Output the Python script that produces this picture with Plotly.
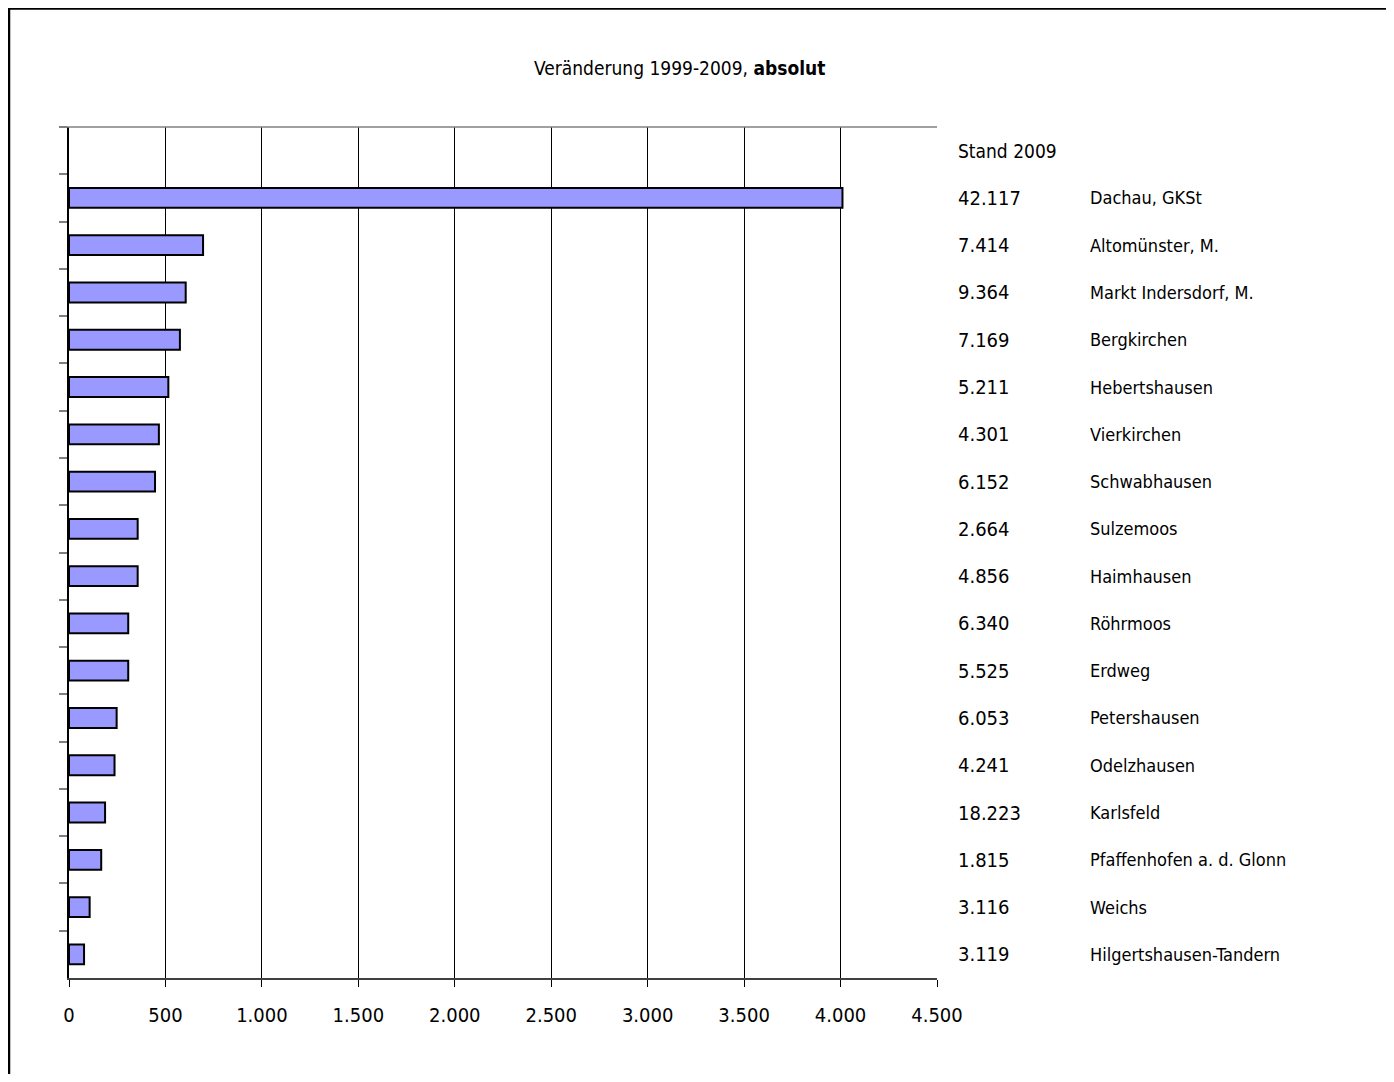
import plotly.graph_objects as go

names = ["Dachau, GKSt", "Altomünster, M.", "Markt Indersdorf, M.", "Bergkirchen",
         "Hebertshausen", "Vierkirchen", "Schwabhausen", "Sulzemoos", "Haimhausen",
         "Röhrmoos", "Erdweg", "Petershausen", "Odelzhausen", "Karlsfeld",
         "Pfaffenhofen a. d. Glonn", "Weichs", "Hilgertshausen-Tandern"]
change = [4010, 695, 605, 575, 515, 466, 446, 356, 356, 307, 307, 247, 236, 187, 167, 107, 78]
stand2009 = ["42.117", "7.414", "9.364", "7.169", "5.211", "4.301", "6.152", "2.664",
             "4.856", "6.340", "5.525", "6.053", "4.241", "18.223", "1.815", "3.116", "3.119"]
header_cat = " "
header_text = "Stand 2009"
title_text = "Veränderung 1999-2009, <b>absolut</b>"
x_ticks = [0, 500, 1000, 1500, 2000, 2500, 3000, 3500, 4000, 4500]
x_ticklabels = ["0", "500", "1.000", "1.500", "2.000", "2.500", "3.000", "3.500", "4.000", "4.500"]

FONT = "Liberation Sans Narrow, DejaVu Sans Condensed, Arial Narrow, sans-serif"
OFF = 8  # page body margin
W, H = 1386, 1066
L, T = 61, 119
pw, ph = 868, 851
R, B = W - L - pw, H - T - ph

def px_x(p):
    return (p - OFF - L) / pw

def px_y(p):
    return (H - B - (p - OFF)) / ph

cats = [header_cat] + names

fig = go.Figure()
fig.add_trace(go.Bar(
    y=names, x=change, orientation="h",
    marker=dict(color="#9999FF", line=dict(color="black", width=2)),
    width=0.42, hoverinfo="x+y",
))

annotations = [
    dict(text=title_text, xref="paper", yref="paper", x=px_x(679), y=px_y(68),
         xanchor="center", yanchor="middle", showarrow=False,
         font=dict(family=FONT, size=19, color="black")),
    dict(text=header_text, xref="paper", yref="y", x=px_x(956), y=header_cat,
         xanchor="left", yanchor="middle", showarrow=False,
         font=dict(family=FONT, size=19, color="black")),
]
for n, s in zip(names, stand2009):
    annotations.append(dict(text=s, xref="paper", yref="y", x=px_x(956), y=n,
                            xanchor="left", yanchor="middle", showarrow=False,
                            font=dict(family=FONT, size=20, color="black")))
    annotations.append(dict(text=n, xref="paper", yref="y", x=px_x(1088), y=n,
                            xanchor="left", yanchor="middle", showarrow=False,
                            font=dict(family=FONT, size=18, color="black")))

shapes = [
    # outer frame (right and bottom edges lie outside the visible page)
    dict(type="rect", xref="paper", yref="paper", x0=px_x(9), x1=px_x(1420),
         y0=px_y(1110), y1=px_y(8.5), line=dict(color="black", width=2.5),
         fillcolor="rgba(0,0,0,0)", layer="below"),
    # top border of plot area
    dict(type="line", xref="paper", yref="paper", x0=px_x(60), x1=1, y0=1, y1=1,
         line=dict(color="#808080", width=1.5)),
]

fig.update_layout(
    width=W, height=H,
    margin=dict(l=L, r=R, t=T, b=B, pad=0),
    paper_bgcolor="white", plot_bgcolor="white",
    showlegend=False,
    font=dict(family=FONT, size=20, color="black"),
    annotations=annotations,
    shapes=shapes,
    bargap=0.58,
    xaxis=dict(
        range=[0, 4500], tickmode="array", tickvals=x_ticks, ticktext=x_ticklabels,
        showgrid=True, gridcolor="black", gridwidth=1,
        showline=True, linecolor="#404040", linewidth=2,
        ticks="outside", ticklen=7, tickcolor="black", tickwidth=1,
        ticklabelstandoff=11,
        tickfont=dict(family=FONT, size=20, color="black"),
        zeroline=False, fixedrange=True,
    ),
    yaxis=dict(
        type="category", categoryorder="array", categoryarray=cats,
        range=[len(cats) - 0.5, -0.5],
        showticklabels=False, tickson="boundaries",
        ticks="outside", ticklen=8, tickcolor="#808080", tickwidth=1.5,
        showgrid=False, showline=True, linecolor="black", linewidth=1.5,
        zeroline=False, fixedrange=True,
    ),
)

fig.write_html("out.html")
